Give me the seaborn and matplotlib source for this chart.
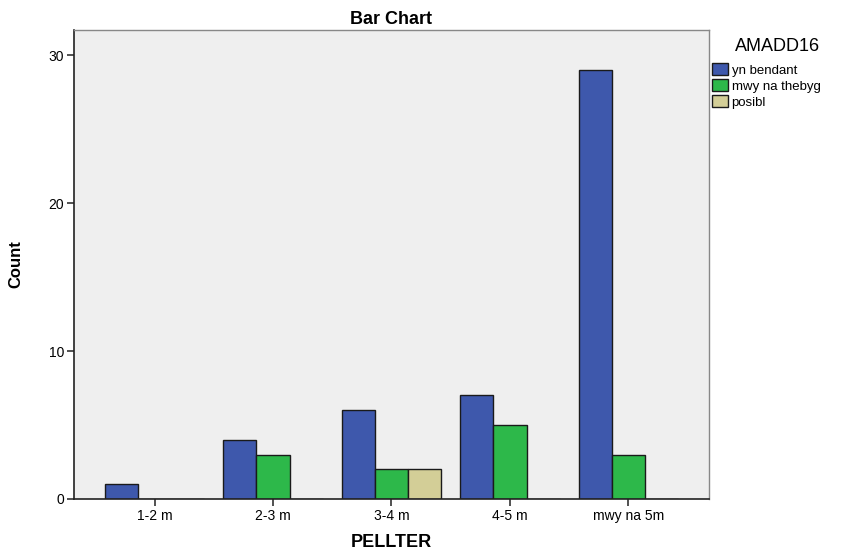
import pandas as pd
import matplotlib
matplotlib.use('Agg')
import matplotlib.pyplot as plt
import seaborn as sns

# data
pellter = ['1-2 m', '2-3 m', '3-4 m', '4-5 m', 'mwy na 5m']
yn_bendant = [1, 4, 6, 7, 29]
mwy_na_thebyg = [0, 3, 2, 5, 3]
posibl = [0, 0, 2, 0, 0]
hue_levels = ['yn bendant', 'mwy na thebyg', 'posibl']
colours = ['#3E58AC', '#2DB84A', '#D3CE97']

df = pd.DataFrame({
    'PELLTER': pellter * 3,
    'AMADD16': [hue_levels[0]] * 5 + [hue_levels[1]] * 5 + [hue_levels[2]] * 5,
    'Count': yn_bendant + mwy_na_thebyg + posibl,
})

sns.set_style('white')
plt.rcParams['font.family'] = ['Liberation Sans', 'DejaVu Sans']
plt.rcParams['text.color'] = 'black'
plt.rcParams['axes.labelcolor'] = 'black'
plt.rcParams['xtick.color'] = 'black'
plt.rcParams['ytick.color'] = 'black'

fig = plt.figure(figsize=(8.48, 5.54), dpi=100)
ax = fig.add_axes([0.0873, 0.0993, 0.7487, 0.8467])
ax.set_facecolor('#EFEFEF')

sns.barplot(data=df, x='PELLTER', y='Count', hue='AMADD16', order=pellter,
            hue_order=hue_levels, palette=colours, saturation=1, width=0.84,
            edgecolor='#1a1a1a', linewidth=1.0, ax=ax)

ax.set_xlim(-0.68, 4.68)
ax.set_ylim(0, 31.7)
ax.set_yticks([0, 10, 20, 30])
ax.tick_params(axis='both', direction='out', length=5, width=1.2, color='#333333',
               labelsize=10, pad=2, left=True, bottom=True)
for s in ['left', 'bottom']:
    ax.spines[s].set_color('#222222')
    ax.spines[s].set_linewidth(1.2)
for s in ['top', 'right']:
    ax.spines[s].set_color('#888888')
    ax.spines[s].set_linewidth(1.0)

ax.set_title('Bar Chart', fontsize=13, fontweight='bold', pad=4)
ax.set_xlabel('PELLTER', fontsize=13, fontweight='bold', labelpad=8)
ax.set_ylabel('Count', fontsize=12, fontweight='bold', labelpad=18)

leg = ax.legend(title='AMADD16', loc='upper left', bbox_to_anchor=(0.99, 1.003),
                frameon=False, fontsize=9.5, title_fontsize=13,
                handlelength=1.2, handleheight=1.0, handletextpad=0.3,
                labelspacing=0.2, borderaxespad=0.3)
leg._legend_box.align = 'right'
leg._legend_box.sep = 6
for h in leg.legend_handles:
    h.set_edgecolor('#1a1a1a')

fig.savefig('out.png', dpi=100)
